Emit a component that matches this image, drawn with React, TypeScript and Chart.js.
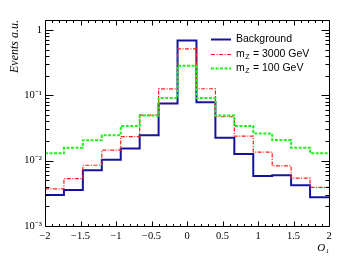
import React, { useEffect, useRef } from 'react';
import { Chart, registerables } from 'chart.js';
Chart.register(...registerables);

// ---- data ----
const binEdges = [-2, -1.7333, -1.4667, -1.2, -0.9333, -0.6667, -0.4, -0.1333, 0.1333, 0.4, 0.6667, 0.9333, 1.2, 1.4667, 1.7333, 2];
const background = [0.00297, 0.00355, 0.0071, 0.0103, 0.0153, 0.0244, 0.075, 0.687, 0.078, 0.0225, 0.0126, 0.0058, 0.006, 0.0042, 0.00276];
const mz3000 = [0.0037, 0.0053, 0.0085, 0.0145, 0.0233, 0.0497, 0.125, 0.514, 0.126, 0.047, 0.0238, 0.0135, 0.0083, 0.0054, 0.0039];
const mz100 = [0.013, 0.0158, 0.0205, 0.0244, 0.034, 0.049, 0.091, 0.283, 0.091, 0.049, 0.034, 0.026, 0.0207, 0.0158, 0.013];
const xTickValues = [-2, -1.5, -1, -0.5, 0, 0.5, 1, 1.5, 2];
const yTickValues = [0.001, 0.01, 0.1, 1];
const yTickLabels = ['10\u207B\u00B3', '10\u207B\u00B2', '10\u207B\u00B9', '1'];
const seriesNames = ['Background', 'm_Z = 3000 GeV', 'm_Z = 100 GeV'];

const BLUE = '#14149a';
const RED = '#ff1a1a';
const GREEN = '#22ee22';
const SERIF = '"Liberation Serif", "Times New Roman", serif';
const SANS = '"Liberation Sans", Arial, sans-serif';

function toSteps(vals: number[]) {
  return binEdges.map((x, i) => ({ x, y: vals[Math.min(i, vals.length - 1)] }));
}

const framePlugin = {
  id: 'rootFrame',
  afterDraw(chart: any) {
    const { ctx, chartArea: a, scales } = chart;
    const xs = scales.x;
    const ys = scales.y;
    ctx.save();
    ctx.strokeStyle = '#000';
    ctx.lineWidth = 1;
    const L = Math.round(a.left) + 0.5;
    const R = Math.round(a.right) + 0.5;
    const T = Math.round(a.top) + 0.5;
    const B = Math.round(a.bottom) + 0.5;
    ctx.beginPath();
    ctx.rect(L, T, R - L, B - T);
    ctx.stroke();
    // x ticks
    ctx.beginPath();
    for (let k = -20; k <= 20; k++) {
      const v = k / 10;
      const px = Math.round(xs.getPixelForValue(v)) + 0.5;
      const len = k % 5 === 0 ? 5 : 2.5;
      ctx.moveTo(px, B);
      ctx.lineTo(px, B - len);
      ctx.moveTo(px, T);
      ctx.lineTo(px, T + len);
    }
    // y ticks
    const ymax = ys.max;
    for (let d = -3; d <= 0; d++) {
      for (let m = 1; m <= 9; m++) {
        const v = m * Math.pow(10, d);
        if (v > ymax) break;
        const py = Math.round(ys.getPixelForValue(v)) + 0.5;
        const len = m === 1 ? 8 : 4;
        ctx.moveTo(L, py);
        ctx.lineTo(L + len, py);
        ctx.moveTo(R, py);
        ctx.lineTo(R - len, py);
      }
    }
    ctx.stroke();

    // legend
    const rows = [39, 54, 68];
    const styles = [
      { color: BLUE, width: 2, dash: [] as number[] },
      { color: RED, width: 1.2, dash: [4, 1.5, 1, 1.5] },
      { color: GREEN, width: 2, dash: [3, 1.5] },
    ];
    rows.forEach((y, i) => {
      const s = styles[i];
      ctx.beginPath();
      ctx.strokeStyle = s.color;
      ctx.lineWidth = s.width;
      ctx.setLineDash(s.dash);
      ctx.moveTo(211, y + 0.5);
      ctx.lineTo(231, y + 0.5);
      ctx.stroke();
      ctx.setLineDash([]);
      ctx.fillStyle = '#000';
      ctx.textBaseline = 'middle';
      ctx.textAlign = 'left';
      const name = seriesNames[i];
      let x = 236;
      const parts = name.split('_');
      if (parts.length === 1) {
        ctx.font = `10.5px ${SANS}`;
        ctx.fillText(name, x, y + 0.5);
      } else {
        ctx.font = `10.5px ${SANS}`;
        ctx.fillText(parts[0], x, y + 0.5);
        x += ctx.measureText(parts[0]).width + 0.5;
        const sub = parts[1].charAt(0);
        ctx.font = `7px ${SANS}`;
        ctx.fillText(sub, x, y + 3.5);
        x += ctx.measureText(sub).width + 0.5;
        ctx.font = `10.5px ${SANS}`;
        ctx.fillText(parts[1].slice(1), x, y + 0.5);
      }
    });
    ctx.restore();
  },
};

export default function App() {
  const ref = useRef<HTMLCanvasElement | null>(null);
  useEffect(() => {
    if (!ref.current) return;
    const chart = new Chart(ref.current, {
      type: 'line',
      data: {
        datasets: [
          {
            label: seriesNames[0],
            data: toSteps(background),
            borderColor: BLUE,
            borderWidth: 2,
            stepped: 'before',
            pointRadius: 0,
            fill: false,
            order: 3,
          },
          {
            label: seriesNames[1],
            data: toSteps(mz3000),
            borderColor: RED,
            borderWidth: 1.2,
            borderDash: [4, 1.5, 1, 1.5],
            stepped: 'before',
            pointRadius: 0,
            fill: false,
            order: 2,
          },
          {
            label: seriesNames[2],
            data: toSteps(mz100),
            borderColor: GREEN,
            borderWidth: 2,
            borderDash: [3, 1.5],
            stepped: 'before',
            pointRadius: 0,
            fill: false,
            order: 1,
          },
        ] as any,
      },
      options: {
        animation: false,
        responsive: false,
        maintainAspectRatio: false,
        layout: { padding: { top: 20, right: 26, left: 0, bottom: 0 } },
        plugins: { legend: { display: false }, tooltip: { enabled: false } },
        scales: {
          x: {
            type: 'linear',
            min: -2,
            max: 2,
            afterBuildTicks: (s: any) => {
              s.ticks = xTickValues.map((v) => ({ value: v }));
            },
            afterFit: (s: any) => {
              s.height = 35;
            },
            grid: { display: false, drawTicks: false },
            border: { display: false },
            ticks: {
              autoSkip: false,
              maxRotation: 0,
              padding: 4,
              color: '#000',
              font: { family: SERIF, size: 10.5 },
              callback: (v: any) => String(v).replace('-', '\u2212'),
            },
            title: {
              display: true,
              text: 'O\u2081',
              align: 'end',
              color: '#000',
              padding: { top: 0, bottom: 6 },
              font: { family: SERIF, size: 11, style: 'italic' },
            },
          },
          y: {
            type: 'logarithmic',
            min: 0.001,
            max: 1.42,
            afterBuildTicks: (s: any) => {
              s.ticks = yTickValues.map((v) => ({ value: v }));
            },
            afterFit: (s: any) => {
              s.width = 45;
            },
            grid: { display: false, drawTicks: false },
            border: { display: false },
            ticks: {
              autoSkip: false,
              padding: 3,
              color: '#000',
              font: { family: SERIF, size: 10.5 },
              callback: (v: any) => {
                const i = yTickValues.findIndex((t) => Math.abs(t - v) / t < 1e-6);
                return i >= 0 ? yTickLabels[i] : '';
              },
            },
            title: {
              display: true,
              text: 'Events a.u.',
              align: 'end',
              color: '#000',
              padding: { top: 8, bottom: 0 },
              font: { family: SERIF, size: 12, style: 'italic' },
            },
          },
        },
      },
      plugins: [framePlugin],
    });
    return () => chart.destroy();
  }, []);
  return (
    <div style={{ position: 'absolute', left: 0, top: 0, width: 355, height: 261, background: '#fff' }}>
      <canvas ref={ref} width={355} height={261} />
    </div>
  );
}
